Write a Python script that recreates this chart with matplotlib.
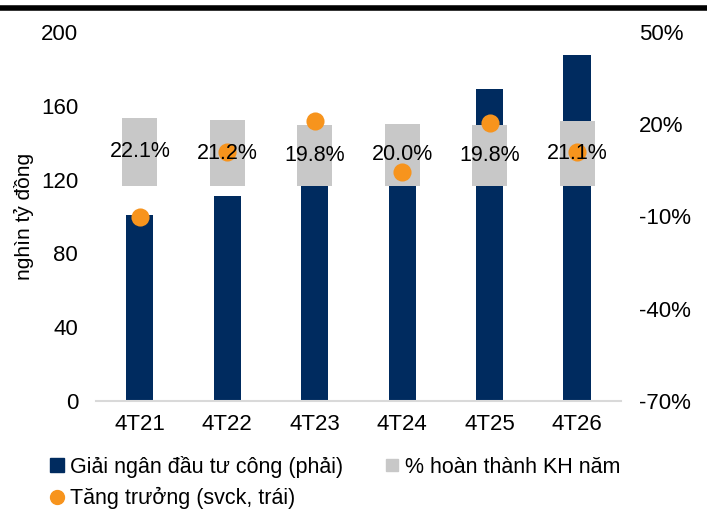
import matplotlib.pyplot as plt
from matplotlib.lines import Line2D
import numpy as np

plt.rcParams['font.family'] = ['Liberation Sans', 'DejaVu Sans']

# data
periods = ['4T21', '4T22', '4T23', '4T24', '4T25', '4T26']
disbursed = [100.8, 111.1, 134.5, 140.4, 169.3, 187.4]      # nghin ty dong
plan_done = [22.1, 21.2, 19.8, 20.0, 19.8, 21.1]            # % hoan thanh KH nam
growth = [-10.1, 10.9, 21.1, 4.4, 20.3, 10.8]               # % svck

navy = '#002B5F'
grey = '#C8C8C8'
orange = '#F7941D'

fig = plt.figure(figsize=(7.07, 5.13), dpi=100)
ax = fig.add_axes([0.136, 0.218, 0.742, 0.720])
ax2 = ax.twinx()

x = np.arange(len(periods))
ax.bar(x, disbursed, width=0.31, color=navy, zorder=2)
ax2.bar(x, plan_done, width=0.40, color=grey, zorder=2)
ax2.scatter(x, growth, s=170, color=orange, zorder=3, linewidths=0)
for xi, v in zip(x, plan_done):
    ax2.text(xi, v / 2, f'{v:.1f}%', ha='center', va='center', fontsize=15.5, color='black', zorder=5)

ax.set_xlim(-0.5, len(periods) - 0.5)
ax.set_ylim(0, 200)
ax.set_yticks(np.arange(0, 201, 40))
ax2.set_ylim(-70, 50)
ax2.set_yticks(np.arange(-70, 51, 30))
ax2.set_yticklabels([f'{t}%' for t in range(-70, 51, 30)])

ax.set_xticks(x)
ax.set_xticklabels(periods)
ax.set_ylabel('nghìn tỷ đồng', fontsize=15, labelpad=5)

for a in (ax, ax2):
    for s in ('top', 'left', 'right', 'bottom'):
        a.spines[s].set_visible(False)
    a.tick_params(length=0, labelsize=16)
ax.spines['bottom'].set_visible(True)
ax.spines['bottom'].set_color('#D9D9D9')
ax.spines['bottom'].set_linewidth(1.5)
ax.tick_params(axis='x', pad=9)
ax.tick_params(axis='y', pad=13)
ax2.tick_params(axis='y', pad=13)

# top rule
fig.add_artist(Line2D([0, 1], [0.984, 0.984], transform=fig.transFigure, color='black', linewidth=4))

handles = [
    Line2D([], [], marker='s', linestyle='none', color=navy, markersize=10),
    Line2D([], [], marker='o', linestyle='none', color=orange, markersize=10),
    Line2D([], [], marker='s', linestyle='none', color=grey, markersize=8),
]
labels = ['Giải ngân đầu tư công (phải)', 'Tăng trưởng (svck, trái)', '% hoàn thành KH năm']
fig.legend(handles, labels, ncol=2, loc='upper left', bbox_to_anchor=(0.072, 0.112),
           frameon=False, fontsize=15.5, handlelength=0.6, handletextpad=0.3,
           columnspacing=1.95, labelspacing=0.45, borderpad=0, borderaxespad=0)

fig.savefig('out.png', dpi=100)
